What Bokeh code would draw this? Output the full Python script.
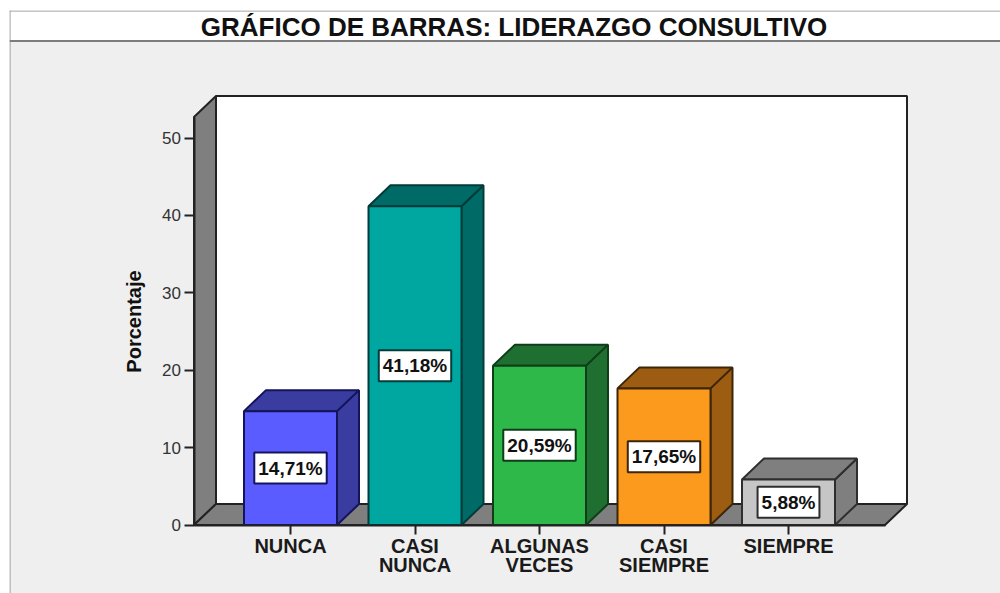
from bokeh.plotting import figure
from bokeh.models import LinearAxis, FixedTicker, Range1d, BoxAnnotation, Label
from bokeh.embed import file_html
from bokeh.resources import INLINE
from bokeh.core.properties import value

categories = ["NUNCA", "CASI\nNUNCA", "ALGUNAS\nVECES", "CASI\nSIEMPRE", "SIEMPRE"]
values = [14.71, 41.18, 20.59, 17.65, 5.88]
labels = ["14,71%", "41,18%", "20,59%", "17,65%", "5,88%"]
front = ["#5a5cff", "#00a6a0", "#2fb84a", "#fb9a1c", "#c6c6c6"]
shade = ["#3a3c9f", "#006a66", "#1f7030", "#9c5d12", "#7f7f7f"]
edge = ["#14145a", "#013c3a", "#0f3d18", "#3d2508", "#2e2e2e"]
y_ticks = [0, 10, 20, 30, 40, 50]
title = "GRÁFICO DE BARRAS: LIDERAZGO CONSULTIVO"

# Page-pixel calibration of the two scales
PX_X0, PX_STEP = 290.0, 124.5     # page x of the first category, px per category
PX_Y0, PX_UNIT = 524.5, 7.74      # page y of value 0, px per value unit
def dx(px): return (px - PX_X0) / PX_STEP
def dy(px): return (PX_Y0 - px) / PX_UNIT

W = 1000; H = 593
p = figure(width=W, height=H, output_backend="svg", toolbar_location=None,
           x_axis_location=None, y_axis_location=None,
           x_range=Range1d(dx(9), dx(1000)), y_range=Range1d(dy(593), dy(10)),
           min_border_left=9, min_border_right=0, min_border_top=10, min_border_bottom=0,
           frame_width=991, frame_height=583,
           border_fill_color="white", background_fill_color="#efefef",
           outline_line_color=None)
p.grid.visible = False

def frame_box(l, r, t, b, color):
    p.add_layout(BoxAnnotation(left=l, right=r, top=t, bottom=b,
                               left_units="canvas", right_units="canvas",
                               top_units="canvas", bottom_units="canvas",
                               fill_color=color, fill_alpha=1, line_alpha=0, level="underlay"))

frame_box(9, 1000, 10, 41, "white")          # title band
frame_box(9, 1000, 10, 11, "#909090")
frame_box(9, 10, 10, 593, "#909090")
frame_box(9, 1000, 39.5, 41.5, "#7c7c7c")

p.add_layout(Label(x=dx(513.5), y=dy(26.5), text=title, text_align="center", text_baseline="middle",
                   text_font="Liberation Sans", text_font_style="bold", text_font_size="26px",
                   text_color="#111111"))

bar_half = 46.5 / PX_STEP
depth_x = 22 / PX_STEP
depth_y = 21 / PX_UNIT
line = "#222222"

# Walls and floor
wall_l, wall_r, axis_top = dx(193.5), dx(906.5), dy(116.5)
p.patch([wall_l + depth_x, wall_r, wall_r, wall_l + depth_x],
        [depth_y, depth_y, axis_top + depth_y, axis_top + depth_y],
        fill_color="white", line_color=line, line_width=2)
p.patch([wall_l, wall_l + depth_x, wall_l + depth_x, wall_l],
        [0, depth_y, axis_top + depth_y, axis_top],
        fill_color="#7f7f7f", line_color=line, line_width=2)
p.patch([wall_l, wall_l + depth_x, wall_r, wall_r - depth_x],
        [0, depth_y, depth_y, 0],
        fill_color="#7f7f7f", line_color=line, line_width=2)

# Bars
for i, v in enumerate(values):
    l, r = i - bar_half, i + bar_half
    p.patch([r, r + depth_x, r + depth_x, r], [0, depth_y, v + depth_y, v],
            fill_color=shade[i], line_color=edge[i], line_width=2)
    p.patch([l, l + depth_x, r + depth_x, r], [v, v + depth_y, v + depth_y, v],
            fill_color=shade[i], line_color=edge[i], line_width=2)
    p.quad(left=[l], right=[r], bottom=[0], top=[v],
           fill_color=front[i], line_color=edge[i], line_width=2)

# Value labels
p.text(x=list(range(5)), y=[v / 2 for v in values], text=labels,
       text_align="center", text_baseline="middle",
       text_font=value("Liberation Sans"), text_font_style="bold", text_font_size="19px",
       text_color="#111111", background_fill_color="white",
       border_line_color=edge, border_line_width=2, padding=(4, 5))

# Axes
yax = LinearAxis(fixed_location=wall_l, bounds=(0, axis_top), ticker=FixedTicker(ticks=y_ticks))
yax.axis_label = "Porcentaje"
yax.axis_label_text_font = "Liberation Sans"
yax.axis_label_text_font_style = "bold"
yax.axis_label_text_font_size = "20px"
yax.axis_label_text_color = "#111111"
yax.axis_label_standoff = 15
yax.major_label_text_font = "Liberation Sans"
yax.major_label_text_font_size = "17px"
yax.major_label_text_color = "#333333"
yax.major_label_standoff = 3
yax.major_tick_in = 0
yax.major_tick_out = 10
yax.minor_tick_line_color = None
yax.axis_line_color = line
yax.axis_line_width = 2
yax.major_tick_line_color = line
yax.major_tick_line_width = 2
p.add_layout(yax, "left")

xax = LinearAxis(fixed_location=0, bounds=(wall_l, wall_r - depth_x),
                 ticker=FixedTicker(ticks=list(range(5))),
                 major_label_overrides={i: c for i, c in enumerate(categories)})
xax.major_label_text_font = "Liberation Sans"
xax.major_label_text_font_style = "bold"
xax.major_label_text_font_size = "20px"
xax.major_label_text_line_height = 0.85
xax.major_label_text_color = "#1a1a1a"
xax.major_label_standoff = 1
xax.major_tick_in = 0
xax.major_tick_out = 9
xax.minor_tick_line_color = None
xax.axis_line_color = line
xax.axis_line_width = 2
xax.major_tick_line_color = line
xax.major_tick_line_width = 2
p.add_layout(xax, "below")

open("out.html", "w").write(file_html(p, INLINE))
